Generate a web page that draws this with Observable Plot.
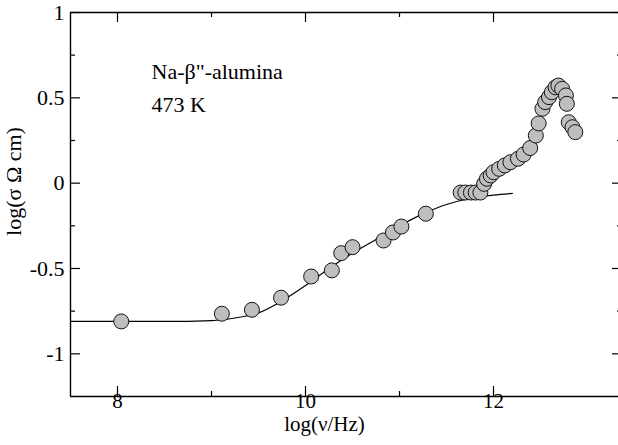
<!DOCTYPE html>
<html><head><meta charset="utf-8">
<script src="https://cdn.jsdelivr.net/npm/d3@7"></script>
<script src="https://cdn.jsdelivr.net/npm/@observablehq/plot@0.6"></script>
<style>
html,body{margin:0;padding:0;overflow:hidden;background:#fff;}
</style></head><body><div id="chart"></div>
<script>
// measured data points: log frequency and log conductivity
const pointX = [8.04, 9.11, 9.43, 9.74, 10.06, 10.28, 10.38, 10.50, 10.83, 10.93, 11.02, 11.28,
  11.65, 11.70, 11.76, 11.81, 11.86,
  11.90, 11.93, 11.97, 12.00, 12.06, 12.12, 12.18, 12.26, 12.32, 12.39, 12.45, 12.48,
  12.52, 12.55, 12.59, 12.62, 12.66, 12.69, 12.73, 12.77, 12.78, 12.80, 12.84, 12.87];
const pointY = [-0.81, -0.765, -0.742, -0.671, -0.547, -0.511, -0.41, -0.375, -0.336, -0.289, -0.254, -0.179,
  -0.055, -0.055, -0.055, -0.055, -0.055,
  -0.004, 0.026, 0.045, 0.064, 0.084, 0.104, 0.123, 0.143, 0.168, 0.206, 0.279, 0.35,
  0.436, 0.475, 0.504, 0.533, 0.562, 0.572, 0.553, 0.514, 0.465, 0.357, 0.328, 0.299];
// fitted curve
const fitX = [7.5, 8.0, 8.5, 9.0, 9.25, 9.5, 9.75, 10.0, 10.25, 10.5, 10.75, 11.0, 11.25, 11.5, 11.75, 12.0, 12.2];
const fitY = [-0.81, -0.81, -0.81, -0.805, -0.79, -0.76, -0.69, -0.60, -0.50, -0.41, -0.33, -0.25, -0.18, -0.125, -0.09, -0.07, -0.06];
// axes
const xMajorTicks = [8, 10, 12];
const xMinorTicks = [9, 11];
const yMajorTicks = [-1, -0.5, 0, 0.5, 1];
const yMinorTicks = [-0.75, -0.25, 0.25, 0.75];
const annotationLines = ["Na-β\"-alumina", "473 K"];
const xLabel = "log(ν/Hz)";
const yLabel = "log(σ Ω cm)";

const W = 622, H = 445, mL = 70, mT = 12, mB = 49, mR = 0;
const xDomain = [7.5, 13.372];
const yDomain = [-1.25, 1];
const pxX = (W - mL - mR) / (xDomain[1] - xDomain[0]);
const pxY = (H - mT - mB) / (yDomain[1] - yDomain[0]);
const majorLen = 10, minorLen = 5;
const font = "'Liberation Serif', 'Times New Roman', serif";
const fs = 22;

const points = pointX.map((x, i) => ({x, y: pointY[i]}));
const fit = fitX.map((x, i) => ({x, y: fitY[i]}));

const tickMarks = (len, xt, yt) => [
  Plot.ruleX(xt, {x: d => d, y1: yDomain[0], y2: yDomain[0] + len / pxY, stroke: "#000", strokeWidth: 1.2}),
  Plot.ruleX(xt, {x: d => d, y1: yDomain[1] - len / pxY, y2: yDomain[1], stroke: "#000", strokeWidth: 1.2}),
  Plot.ruleY(yt, {y: d => d, x1: xDomain[0], x2: xDomain[0] + len / pxX, stroke: "#000", strokeWidth: 1.2}),
  Plot.ruleY(yt, {y: d => d, x1: xDomain[1] - len / pxX, x2: xDomain[1], stroke: "#000", strokeWidth: 1.2})
];

const chart = Plot.plot({
  width: W, height: H,
  marginLeft: mL, marginTop: mT, marginBottom: mB, marginRight: mR,
  style: {maxWidth: "none", background: "#fff", fontFamily: font},
  x: {domain: xDomain, axis: null},
  y: {domain: yDomain, axis: null},
  marks: [
    Plot.line(fit, {x: "x", y: "y", curve: "monotone-x", stroke: "#000", strokeWidth: 1.2}),
    Plot.dot(points, {x: "x", y: "y", r: 7.5, fill: "#c4c4c4", stroke: "#111", strokeWidth: 1}),
    Plot.ruleX([xDomain[0], xDomain[1]], {stroke: "#000", strokeWidth: 1.4}),
    Plot.ruleY([yDomain[0], yDomain[1]], {stroke: "#000", strokeWidth: 1.4}),
    ...tickMarks(majorLen, xMajorTicks, yMajorTicks),
    ...tickMarks(minorLen, xMinorTicks, yMinorTicks),
    Plot.text(xMajorTicks, {x: d => d, y: yDomain[0], text: d => String(d), dy: 5, lineAnchor: "middle", fontSize: 21, fontFamily: font, fill: "#000"}),
    Plot.text(yMajorTicks, {x: xDomain[0], y: d => d, text: d => String(d), textAnchor: "end", lineAnchor: "middle", dx: -6, fontSize: fs, fontFamily: font, fill: "#000"}),
    Plot.text([xLabel], {frameAnchor: "bottom", textAnchor: "middle", lineAnchor: "middle", dx: -22, dy: 28, fontSize: 21, fontFamily: font, fill: "#000"}),
    Plot.text([yLabel], {frameAnchor: "left", textAnchor: "middle", lineAnchor: "middle", rotate: -90, dx: -57, dy: -23, fontSize: fs, fontFamily: font, fill: "#000"}),
    Plot.text([annotationLines.join("\n")], {frameAnchor: "top-left", dx: 81, dy: 43, textAnchor: "start", lineAnchor: "top", lineHeight: 1.5, fontSize: fs, fontFamily: font, fill: "#000"})
  ]
});

// stippled marker fill
const ns = "http://www.w3.org/2000/svg";
const defs = document.createElementNS(ns, "defs");
defs.innerHTML = '<pattern id="stipple" width="2" height="2" patternUnits="userSpaceOnUse"><rect width="2" height="2" fill="#dadada"/><rect width="1" height="1" fill="#6a6a6a"/></pattern>';
chart.insertBefore(defs, chart.firstChild);
chart.querySelectorAll('g[aria-label="dot"] circle').forEach(c => c.setAttribute("fill", "url(#stipple)"));
document.getElementById("chart").appendChild(chart);
</script>
</body></html>
